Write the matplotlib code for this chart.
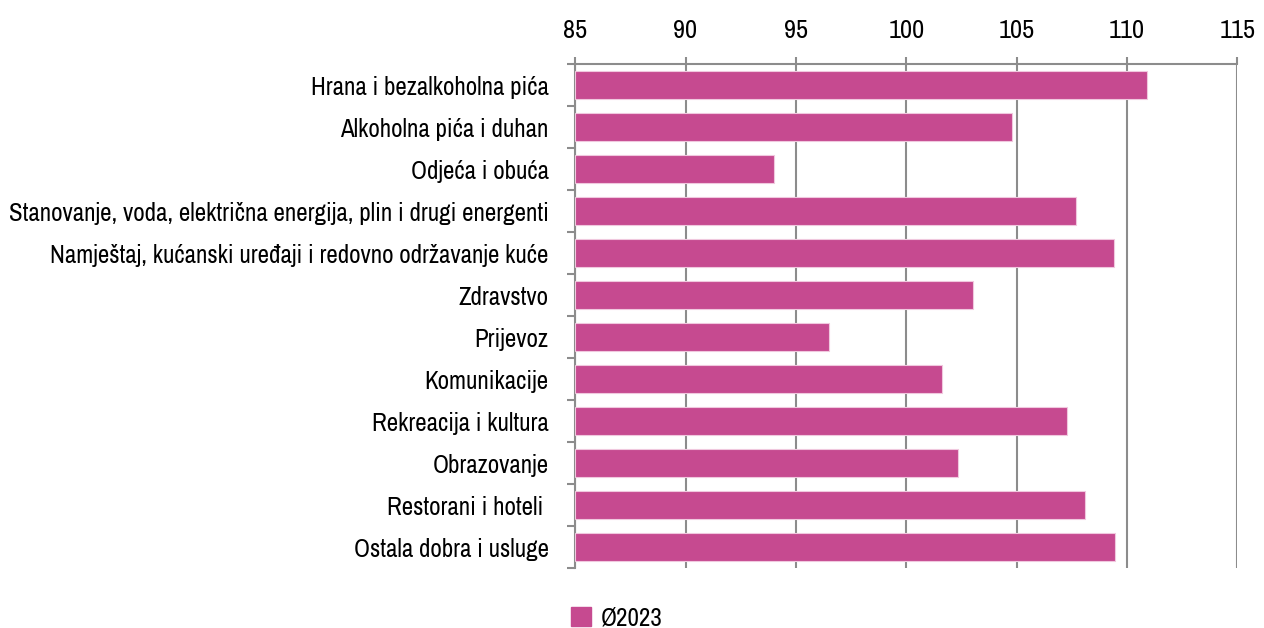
import numpy as np
import matplotlib.pyplot as plt
from matplotlib import font_manager
from matplotlib.patches import Patch

# uski font ako postoji
uski = [f.name for f in font_manager.fontManager.ttflist
        if 'Narrow' in f.name or 'Condensed' in f.name]
if uski:
    plt.rcParams['font.family'] = [uski[0], 'DejaVu Sans']
else:
    plt.rcParams['font.family'] = ['DejaVu Sans']
    plt.rcParams['font.stretch'] = 'condensed'

kategorije = ["Hrana i bezalkoholna pića",
              "Alkoholna pića i duhan",
              "Odjeća i obuća",
              "Stanovanje, voda, električna energija, plin i drugi energenti",
              "Namještaj, kućanski uređaji i redovno održavanje kuće",
              "Zdravstvo",
              "Prijevoz",
              "Komunikacije",
              "Rekreacija i kultura",
              "Obrazovanje",
              "Restorani i hoteli ",
              "Ostala dobra i usluge"]
vrijednosti = [110.9, 104.8, 94.0, 107.7, 109.4, 103.0, 96.5, 101.6, 107.3, 102.35, 108.1, 109.45]
serija = "Ø2023"
x_ticks = [85, 90, 95, 100, 105, 110, 115]

boja = '#C64A90'
siva = '#8C8C8C'

fig = plt.figure(figsize=(12.64, 6.28), dpi=100)
ax = fig.add_axes([0.455, 0.0955, 0.524, 0.8025])

y = np.arange(len(kategorije))
ax.barh(y, np.array(vrijednosti) - 85, left=85, height=0.65, color=boja,
        edgecolor='#F0C8DE', linewidth=0.8, zorder=3)

ax.set_xlim(85, 115)
ax.set_ylim(len(kategorije) - 0.5, -0.5)
ax.set_xticks(x_ticks)
ax.xaxis.tick_top()
ax.tick_params(axis='x', which='major', length=5, width=1.5, color=siva,
               pad=11, labelsize=19)
ax.grid(axis='x', color=siva, linewidth=1.5, zorder=0)

ax.set_yticks(y)
ax.set_yticklabels(kategorije)
ax.set_yticks(np.arange(-0.5, len(kategorije)), minor=True)
ax.tick_params(axis='y', which='major', length=0, pad=19, labelsize=18)
ax.tick_params(axis='y', which='minor', length=6, width=1.5, color=siva)

for s in ['right', 'bottom']:
    ax.spines[s].set_visible(False)
for s in ['top', 'left']:
    ax.spines[s].set_color(siva)
    ax.spines[s].set_linewidth(1.5)

fig.legend(handles=[Patch(color=boja, label=serija)], loc='center',
           bbox_to_anchor=(617 / 1264, 1 - 618 / 628), frameon=False,
           fontsize=18, handlelength=0.8, handleheight=0.8, handletextpad=0.4,
           borderpad=0)

fig.savefig('out.png', dpi=100)
